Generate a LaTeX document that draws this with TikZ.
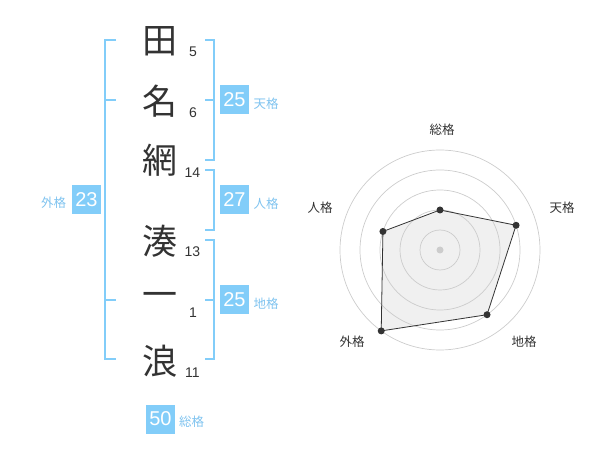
\documentclass[tikz,border=0pt]{standalone}
\usepackage{fontspec}
\setmainfont{Liberation Sans}
\newfontfamily\cjk{Noto Sans CJK JP}
\definecolor{bl}{HTML}{82CDF9}
\definecolor{bltxt}{HTML}{7FC3EF}
\definecolor{ink}{HTML}{333333}
\definecolor{ring}{HTML}{CCCCCC}
\definecolor{area}{HTML}{F0F0F0}
\begin{document}
\begin{tikzpicture}[x=1pt,y=1pt,
  ch/.style={inner sep=0pt,text=ink,font=\cjk\fontsize{35}{35}\selectfont},
  num/.style={inner sep=0pt,text=ink,font=\fontsize{14}{14}\selectfont},
  bx/.style={fill=bl,text=white,minimum width=29,minimum height=29,inner sep=0pt,font=\fontsize{20}{20}\selectfont},
  lb/.style={inner sep=0pt,text=bltxt,font=\cjk\fontsize{12.5}{12.5}\selectfont},
  brk/.style={draw=bl,line width=2pt},
  rl/.style={inner sep=0pt,text=ink,font=\cjk\fontsize{12.5}{12.5}\selectfont},
  dot/.style={circle,fill=ink,inner sep=0pt,minimum size=7}]
\useasboundingbox (0,0) rectangle (600,-470);
% characters
\node[ch] (c1) at (160,-41) {田};
\node[ch] (c2) at (160,-101) {名};
\node[ch] (c3) at (160,-160) {網};
\node[ch] (c4) at (160,-241) {湊};
\node[ch] (c5) at (160,-300) {一};
\node[ch] (c6) at (160,-361) {浪};
% stroke counts
\node[num] (n1) at (193,-52) {5};
\node[num] (n2) at (193,-112.5) {6};
\node[num] (n3) at (192.5,-173) {14};
\node[num] (n4) at (192.5,-252) {13};
\node[num] (n5) at (193,-313) {1};
\node[num] (n6) at (192.5,-373) {11};
% left bracket (外格)
\draw[brk] (116,-40) -- (105,-40) -- (105,-359) -- (116,-359);
\draw[brk] (105,-100) -- (116,-100);
\draw[brk] (105,-300) -- (116,-300);
\node[bx] (g) at (86.5,-200) {23};
\node[lb] (gl) at (53.5,-203) {外格};
% 天格
\draw[brk] (205,-40) -- (214,-40) -- (214,-160) -- (205,-160);
\draw[brk] (214,-100) -- (205,-100);
\node[bx] (t) at (234.5,-100) {25};
\node[lb] (tl) at (266,-103.5) {天格};
% 人格
\draw[brk] (205,-170) -- (214,-170) -- (214,-230) -- (205,-230);
\node[bx] (j) at (234.5,-200) {27};
\node[lb] (jl) at (266,-203.5) {人格};
% 地格
\draw[brk] (205,-240) -- (214,-240) -- (214,-359) -- (205,-359);
\draw[brk] (214,-300) -- (205,-300);
\node[bx] (c) at (234.5,-300) {25};
\node[lb] (cl) at (266,-303.5) {地格};
% 総格
\node[bx] (s) at (160.5,-419) {50};
\node[lb] (sl) at (191.5,-422) {総格};
% radar
\begin{scope}[shift={(440,-250)}]
  \coordinate (q1) at (90:40);
  \coordinate (q2) at (18:80);
  \coordinate (q3) at (-54:80);
  \coordinate (q4) at (-126:100);
  \coordinate (q5) at (162:60);
  \fill[area] (q1) -- (q2) -- (q3) -- (q4) -- (q5) -- cycle;
  \foreach \r in {20,40,60,80,100} \draw[ring,line width=0.7pt] (0,0) circle (\r);
  \node[circle,fill=ring,inner sep=0pt,minimum size=7] (o) at (0,0) {};
  \draw[ink,line width=0.8pt] (q1) -- (q2) -- (q3) -- (q4) -- (q5) -- cycle;
  \foreach \i in {1,...,5} \node[dot] (d\i) at (q\i) {};
  \node[rl] (r1) at (2,120) {総格};
  \node[rl] (r2) at (122,42) {天格};
  \node[rl] (r3) at (84,-92) {地格};
  \node[rl] (r4) at (-88,-92) {外格};
  \node[rl] (r5) at (-120,42) {人格};
\end{scope}
\end{tikzpicture}
\end{document}
